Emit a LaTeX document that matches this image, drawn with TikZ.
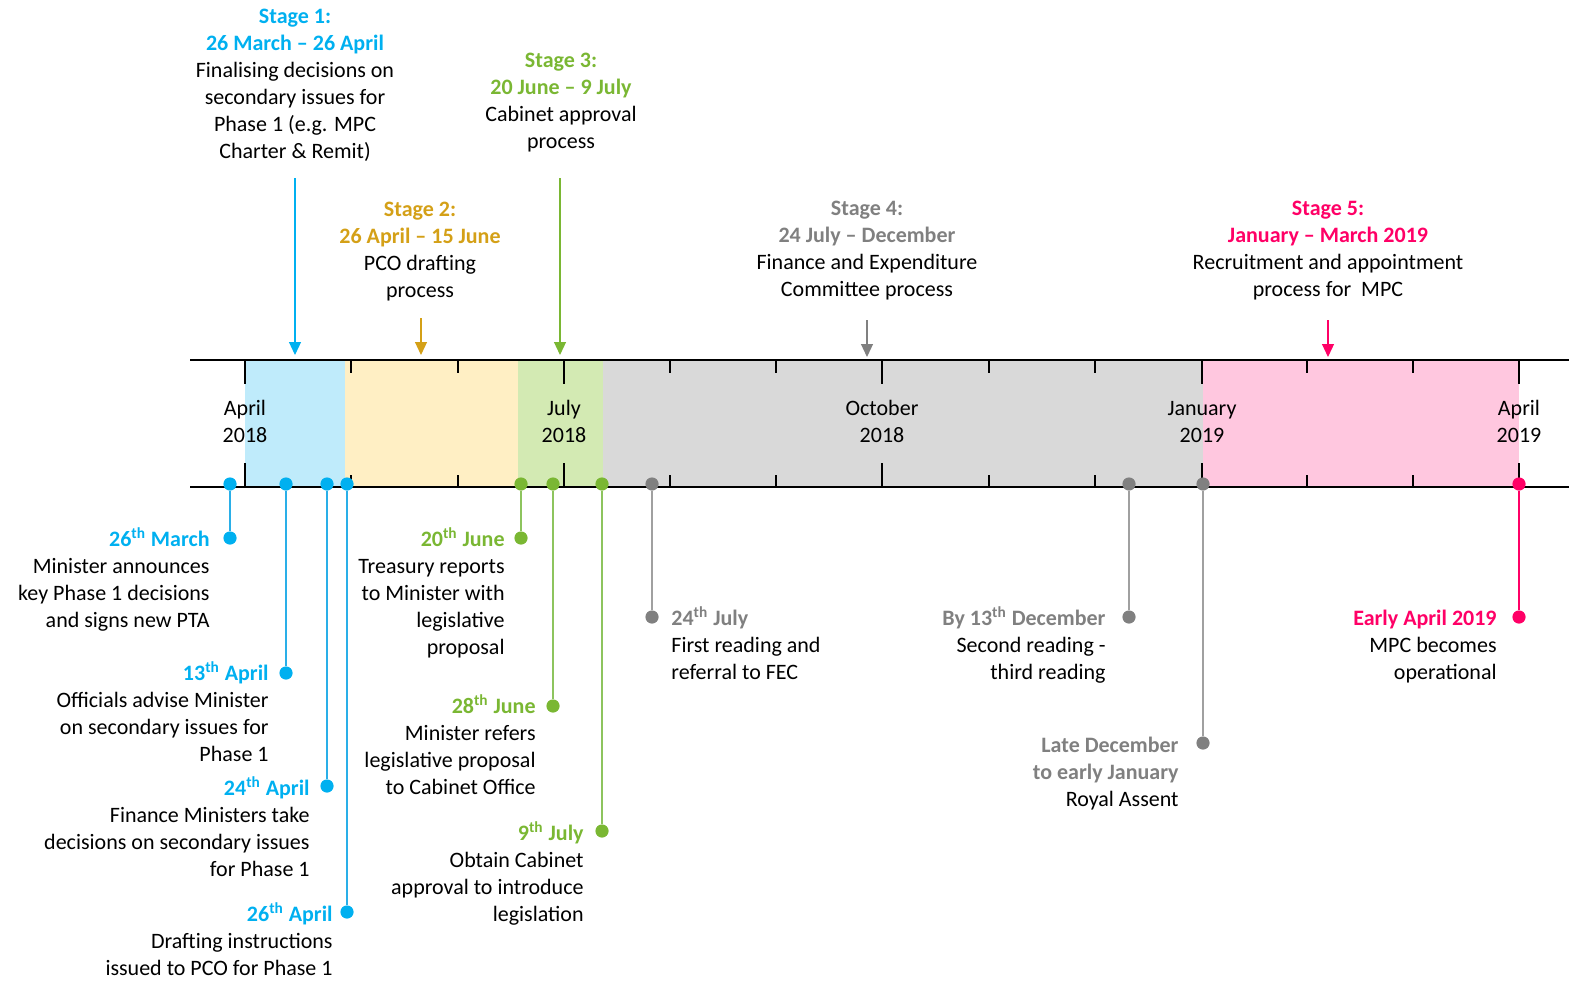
\documentclass[tikz,border=0pt]{standalone}
\usepackage{fontspec}
\setmainfont{Carlito}
\usetikzlibrary{arrows.meta}
\definecolor{cblue}{HTML}{00B0F0}
\definecolor{cbluefill}{HTML}{BFEBFB}
\definecolor{cblueline}{HTML}{2AAFE8}
\definecolor{cgold}{HTML}{D4A017}
\definecolor{cgoldfill}{HTML}{FFEFC4}
\definecolor{cgreen}{HTML}{7AB733}
\definecolor{cgreenfill}{HTML}{D3EAB3}
\definecolor{cgreenline}{HTML}{8DC45E}
\definecolor{cgrey}{HTML}{808080}
\definecolor{cgreyfill}{HTML}{D9D9D9}
\definecolor{cgreyline}{HTML}{A0A0A0}
\definecolor{cpink}{HTML}{FF0066}
\definecolor{cpinkfill}{HTML}{FFC7DF}
\newcommand{\hdr}[2]{{\bfseries\color{#1}#2}}
\newcommand{\thh}{\textsuperscript{th}}
\begin{document}
\begin{tikzpicture}[x=0.5pt,y=-0.5pt,
  every node/.style={font=\fontsize{11pt}{13.5pt}\selectfont, inner sep=0pt, text=black},
  rlbl/.style={align=right, anchor=base east},
  llbl/.style={align=left, anchor=base west},
  clbl/.style={align=center, anchor=base},
  dot/.style={circle, minimum size=6.6pt, inner sep=0pt, draw=none},
  axisline/.style={line width=1pt, black},
  tick/.style={line width=1pt, black},
  conn/.style={line width=0.6pt},
  arr/.style={-{Triangle[width=6pt,length=6.5pt]}, line width=0.6pt}
]
\useasboundingbox (0,0) rectangle (1569,980);

% bands
\fill[cbluefill] (245,360) rectangle (345,487);
\fill[cgoldfill] (345,360) rectangle (518,487);
\fill[cgreenfill] (518,360) rectangle (603,487);
\fill[cgreyfill] (603,360) rectangle (1203,487);
\fill[cpinkfill] (1203,360) rectangle (1519,487);

% axis lines
\draw[axisline] (190,360) -- (1569,360);
\draw[axisline] (190,487) -- (1569,487);

% major ticks
\foreach \x in {245,564,882,1202,1519} {
  \draw[tick] (\x,360) -- (\x,384);
  \draw[tick] (\x,463) -- (\x,487);
}
% minor ticks
\foreach \x in {351,458,670,776,989,1095,1307,1413} {
  \draw[tick] (\x,360) -- (\x,373);
  \draw[tick] (\x,475) -- (\x,487);
}

% month labels (base anchor = last line baseline)
\node[clbl] (m1) at (245,442) {April\\2018};
\node[clbl] (m2) at (564,442) {July\\2018};
\node[clbl] (m3) at (882,442) {October\\2018};
\node[clbl] (m4) at (1202,442) {January\\2019};
\node[clbl] (m5) at (1519,442) {April\\2019};

% stage labels
\node[clbl] (st1) at (295,158) {\hdr{cblue}{Stage 1:}\\\hdr{cblue}{26 March -- 26 April}\\Finalising decisions on\\secondary issues for\\Phase 1 (e.g. MPC\\Charter \& Remit)};
\node[clbl] (st2) at (420,297) {\hdr{cgold}{Stage 2:}\\\hdr{cgold}{26 April -- 15 June}\\PCO drafting\\process};
\node[clbl] (st3) at (561,148) {\hdr{cgreen}{Stage 3:}\\\hdr{cgreen}{20 June -- 9 July}\\Cabinet approval\\process};
\node[clbl] (st4) at (867,296) {\hdr{cgrey}{Stage 4:}\\\hdr{cgrey}{24 July -- December}\\Finance and Expenditure\\Committee process};
\node[clbl] (st5) at (1328,296) {\hdr{cpink}{Stage 5:}\\\hdr{cpink}{January -- March 2019}\\Recruitment and appointment\\process for\ \ MPC};

% stage arrows
\coordinate (s1a) at (295,178); \coordinate (s1b) at (295,355);
\coordinate (s2a) at (421,318); \coordinate (s2b) at (421,355);
\coordinate (s3a) at (560,178); \coordinate (s3b) at (560,355);
\coordinate (s4a) at (867,320); \coordinate (s4b) at (867,357);
\coordinate (s5a) at (1328,320); \coordinate (s5b) at (1328,357);
\draw[arr, cblue] (s1a) -- (s1b);
\draw[arr, cgold] (s2a) -- (s2b);
\draw[arr, cgreen] (s3a) -- (s3b);
\draw[arr, cgrey] (s4a) -- (s4b);
\draw[arr, cpink] (s5a) -- (s5b);

% axis dots and event dots
\node[dot, fill=cblue] (a1) at (230,484) {};
\node[dot, fill=cblue] (b1) at (230,538) {};
\node[dot, fill=cblue] (a2) at (286,484) {};
\node[dot, fill=cblue] (b2) at (286,673) {};
\node[dot, fill=cblue] (a3) at (327,484) {};
\node[dot, fill=cblue] (b3) at (327,786) {};
\node[dot, fill=cblue] (a4) at (347,484) {};
\node[dot, fill=cblue] (b4) at (347,912) {};
\node[dot, fill=cgreen] (a5) at (521,484) {};
\node[dot, fill=cgreen] (b5) at (521,538) {};
\node[dot, fill=cgreen] (a6) at (553,484) {};
\node[dot, fill=cgreen] (b6) at (553,706) {};
\node[dot, fill=cgreen] (a7) at (602,484) {};
\node[dot, fill=cgreen] (b7) at (602,831) {};
\node[dot, fill=cgrey] (a8) at (652,484) {};
\node[dot, fill=cgrey] (b8) at (652,617) {};
\node[dot, fill=cgrey] (a9) at (1129,484) {};
\node[dot, fill=cgrey] (b9) at (1129,617) {};
\node[dot, fill=cgrey] (a10) at (1203,484) {};
\node[dot, fill=cgrey] (b10) at (1203,743) {};
\node[dot, fill=cpink] (a11) at (1519,484) {};
\node[dot, fill=cpink] (b11) at (1519,617) {};

\draw[conn, cblueline] (a1) -- (b1);
\draw[conn, cblueline] (a2) -- (b2);
\draw[conn, cblueline] (a3) -- (b3);
\draw[conn, cblueline] (a4) -- (b4);
\draw[conn, cgreenline] (a5) -- (b5);
\draw[conn, cgreenline] (a6) -- (b6);
\draw[conn, cgreenline] (a7) -- (b7);
\draw[conn, cgreyline] (a8) -- (b8);
\draw[conn, cgreyline] (a9) -- (b9);
\draw[conn, cgreyline] (a10) -- (b10);
\draw[conn, cpink] (a11) -- (b11);

% event labels (base anchor = last line baseline)
\node[rlbl] (e1) at (210,627) {\hdr{cblue}{26\thh{} March}\\Minister announces\\key Phase 1 decisions\\and signs new PTA};
\node[rlbl] (e2) at (269,761) {\hdr{cblue}{13\thh{} April}\\Officials advise Minister\\on secondary issues for\\Phase 1};
\node[rlbl] (e3) at (310,876) {\hdr{cblue}{24\thh{} April}\\Finance Ministers take\\decisions on secondary issues\\for Phase 1};
\node[rlbl] (e4) at (333,975) {\hdr{cblue}{26\thh{} April}\\Drafting instructions\\issued to PCO for Phase 1};
\node[rlbl] (e5) at (505,654) {\hdr{cgreen}{20\thh{} June}\\Treasury reports\\to Minister with\\legislative\\proposal};
\node[rlbl] (e6) at (536,794) {\hdr{cgreen}{28\thh{} June}\\Minister refers\\legislative proposal\\to Cabinet Office};
\node[rlbl] (e7) at (584,921) {\hdr{cgreen}{9\thh{} July}\\Obtain Cabinet\\approval to introduce\\legislation};
\node[llbl] (e8) at (671,679) {\hdr{cgrey}{24\thh{} July}\\First reading and\\referral to FEC};
\node[rlbl] (e9) at (1106,679) {\hdr{cgrey}{By 13\thh{} December}\\Second reading -\\third reading};
\node[rlbl] (e10) at (1179,806) {\hdr{cgrey}{Late December}\\\hdr{cgrey}{to early January}\\Royal Assent};
\node[rlbl] (e11) at (1497,679) {\hdr{cpink}{Early April 2019}\\MPC becomes\\operational};
\end{tikzpicture}
\end{document}
